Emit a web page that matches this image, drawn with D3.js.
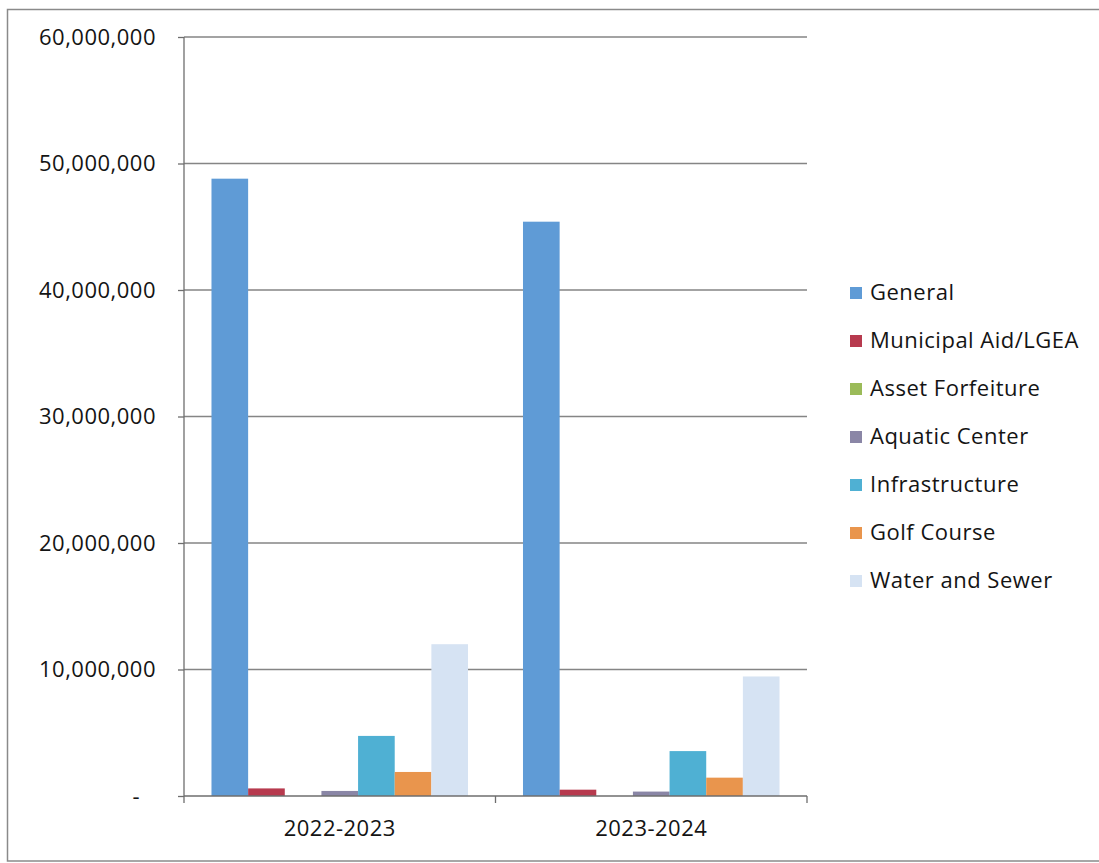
<!DOCTYPE html>
<html>
<head>
<meta charset="utf-8">
<script src="https://cdn.jsdelivr.net/npm/d3@7"></script>
<style>
  html, body { margin: 0; padding: 0; background: #fff; }
  svg { display: block; }
  text { font-family: "Open Sans", "Noto Sans", sans-serif; fill: #141414; }
</style>
</head>
<body>
<svg id="chart" width="1099" height="863"></svg>
<script>
const categories = ["2022-2023", "2023-2024"];
const seriesNames = ["General", "Municipal Aid/LGEA", "Asset Forfeiture", "Aquatic Center", "Infrastructure", "Golf Course", "Water and Sewer"];
const seriesColors = ["#5f9bd6", "#b73a4e", "#9bbb59", "#8a86a6", "#4fb0d3", "#e9954d", "#d6e3f3"];
const generalValues = [48800000, 45400000];
const municipalValues = [600000, 500000];
const assetValues = [0, 0];
const aquaticValues = [400000, 350000];
const infrastructureValues = [4750000, 3550000];
const golfValues = [1900000, 1450000];
const waterValues = [12000000, 9450000];
const yTicks = [0, 10000000, 20000000, 30000000, 40000000, 50000000, 60000000];

const seriesValues = [generalValues, municipalValues, assetValues, aquaticValues, infrastructureValues, golfValues, waterValues];

const svg = d3.select("#chart");
const FONT = { size: "22px", spacing: "0.5px" };

// outer border
svg.append("rect")
  .attr("x", 7.5).attr("y", 9.5)
  .attr("width", 1100).attr("height", 851.5)
  .attr("fill", "none").attr("stroke", "#8a8a8a").attr("stroke-width", 1.5);

const plot = { left: 184, right: 807, top: 37, bottom: 796 };

const x0 = d3.scaleBand().domain(categories).range([plot.left, plot.right]).paddingInner(0).paddingOuter(0);
const x1 = d3.scaleBand().domain(seriesNames).range([0, x0.bandwidth()])
  .paddingInner(0).paddingOuter(0.75);
const y = d3.scaleLinear().domain([0, 60000000]).range([plot.bottom, plot.top]);

// gridlines
svg.append("g").selectAll("line").data(yTicks.filter(d => d > 0)).join("line")
  .attr("x1", plot.left).attr("x2", plot.right)
  .attr("y1", d => y(d)).attr("y2", d => y(d))
  .attr("stroke", "#858585").attr("stroke-width", 1.3);

// bars
const groups = svg.append("g").selectAll("g").data(categories).join("g")
  .attr("transform", d => `translate(${x0(d)},0)`);
groups.selectAll("rect")
  .data((c, ci) => seriesNames.map((s, si) => ({ s, si, v: seriesValues[si][ci] })))
  .join("rect")
  .attr("x", d => x1(d.s))
  .attr("width", x1.bandwidth())
  .attr("y", d => y(d.v))
  .attr("height", d => y(0) - y(d.v))
  .attr("fill", d => seriesColors[d.si]);

// y axis
const yAxis = d3.axisLeft(y).tickValues(yTicks).tickSize(6).tickPadding(22)
  .tickFormat(d => d === 0 ? "-" : d3.format(",")(d));
const gy = svg.append("g").attr("transform", `translate(${plot.left},0)`).call(yAxis);
gy.select(".domain").attr("stroke", "#6e6e6e").attr("stroke-width", 1.3).attr("d", `M0,${plot.top}V${plot.bottom}`);
gy.selectAll(".tick line").attr("stroke", "#6e6e6e").attr("stroke-width", 1.3);
gy.selectAll(".tick text").style("font-size", FONT.size).style("letter-spacing", FONT.spacing)
  .attr("fill", "#141414").style("font-family", '"Open Sans", sans-serif');
gy.selectAll(".tick text").filter(d => d === 0).attr("dx", "-16");

// x axis
const xAxis = d3.axisBottom(x0).tickSize(0).tickPadding(24);
const gx = svg.append("g").attr("transform", `translate(0,${plot.bottom})`).call(xAxis);
gx.select(".domain").attr("stroke", "#6e6e6e").attr("stroke-width", 1.3).attr("d", `M${plot.left},0H${plot.right}`);
gx.selectAll(".tick text").style("font-size", FONT.size).style("letter-spacing", FONT.spacing)
  .attr("fill", "#141414").style("font-family", '"Open Sans", sans-serif');
// category boundary ticks
const bounds = [plot.left, x0(categories[1]), plot.right];
gx.append("g").selectAll("line").data(bounds).join("line")
  .attr("x1", d => d).attr("x2", d => d).attr("y1", 0).attr("y2", 7)
  .attr("stroke", "#6e6e6e").attr("stroke-width", 1.3);

// legend
const legend = svg.append("g").attr("transform", "translate(850,292)");
const items = legend.selectAll("g").data(seriesNames).join("g")
  .attr("transform", (d, i) => `translate(0,${i * 48})`);
items.append("rect").attr("x", 0).attr("y", -5).attr("width", 12).attr("height", 12)
  .attr("fill", (d, i) => seriesColors[i]);
items.append("text").attr("x", 20).attr("y", 0).attr("dy", "0.35em")
  .style("font-size", FONT.size).style("letter-spacing", FONT.spacing).text(d => d);
</script>
</body>
</html>
